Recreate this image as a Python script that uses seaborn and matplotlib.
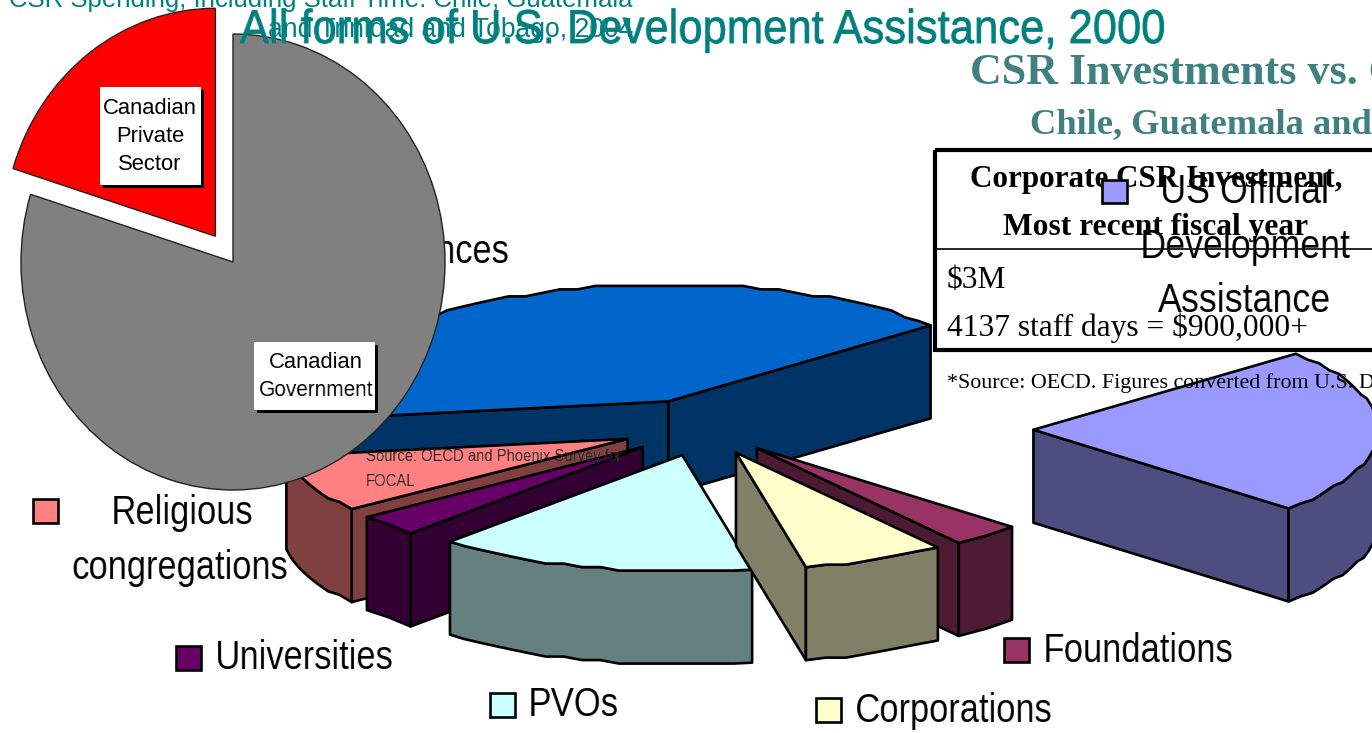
# giving_pie_slide.py
import numpy as np
import matplotlib
matplotlib.use("Agg")
import matplotlib.pyplot as plt
import matplotlib.patheffects as pe
from matplotlib.patches import Polygon, Rectangle
import seaborn as sns

# US development assistance, share of total (%)
giving_labels = ["Remittances", "Religious congregations", "Universities", "PVOs",
                 "Corporations", "Foundations", "US Official Development Assistance"]
giving_shares = [41.1, 7.9, 3.0, 15.0, 6.7, 3.3, 23.0]
giving_colors = ["#0066CC", "#FF8080", "#660066", "#CCFFFF", "#FFFFCC", "#993366", "#9999FF"]
giving_explode = [0.25, 0.24, 0.24, 0.24, 0.23, 0.23, 0.955]
draw_order = [0, 1, 2, 3, 5, 4, 6]

# Canadian split (%)
canada_labels = ["Canadian\nPrivate\nSector", "Canadian\nGovernment"]
canada_shares = [20.2, 79.8]
canada_colors = ["#FF0000", "#808080"]

table_rows = ["$3M", "4137 staff days = $900,000+"]

TEAL = "#008080"
SLATE = "#408080"
SANS = ["Liberation Sans"]
SERIF = ["Liberation Serif"]


def px(size):
    # font size given in pixels at dpi 100
    return size * 0.72


def squeeze(k, anchor=0.5):
    # the slide used a condensed face, so narrow the drawn text sideways
    def apply(img, dpi):
        w = img.shape[1]
        n = max(1, int(round(w * k)))
        cum = np.concatenate([np.zeros_like(img[:, :1]), np.cumsum(img, axis=1)], axis=1)
        pos = np.linspace(0, w, n + 1)
        i = np.minimum(pos.astype(int), w - 1)
        frac = (pos - i)[None, :, None]
        val = cum[:, i] + frac * img[:, i]
        out = (val[:, 1:] - val[:, :-1]) * n / w
        return np.clip(out, 0, 1), int(round((w - n) * anchor)), 0
    return apply


sns.set_theme(style="white")
fig = plt.figure(figsize=(13.72, 7.33), dpi=100, facecolor="white")

W, H = 1372, 733


def pixel_axes(zorder):
    ax = fig.add_axes([0, 0, 1, 1], zorder=zorder)
    ax.set_xlim(0, W)
    ax.set_ylim(H, 0)
    ax.axis("off")
    return ax


ax = pixel_axes(1)

# 3D pie, built from the shares
cx, cy, a, b, depth = 704, 428, 345, 117, 93
start = 40.5
edges = start + np.concatenate([[0], np.cumsum(giving_shares)]) / sum(giving_shares) * 360


def rim(t):
    t = np.radians(t)
    return np.column_stack([a * np.cos(t), -b * np.sin(t)])


def rough(points):
    # the source chart had a coarse, slightly stepped outline
    points = points.copy()
    points[1:-1, 1] = np.round(points[1:-1, 1] / 3.5) * 3.5
    return points


for i in draw_order:
    t0, t1 = edges[i], edges[i + 1]
    mid = (t0 + t1) / 2
    apex = np.array([cx, cy]) + giving_explode[i] * rim(mid)[0]
    top = giving_colors[i]
    side = tuple(c * 0.5 for c in matplotlib.colors.to_rgb(top))
    style = dict(edgecolor="black", linewidth=1.9, joinstyle="round", zorder=2)
    drop = np.array([0, depth])

    # radial faces the viewer can see
    for t, visible in ((t0, np.cos(np.radians(t0)) > 0), (t1, np.cos(np.radians(t1)) < 0)):
        if visible:
            p = apex + rim(t)[0]
            ax.add_patch(Polygon([apex, p, p + drop, apex + drop], facecolor=side, **style))

    outline = rough(rim(np.linspace(t0, t1, max(3, int((t1 - t0) / 3)))))
    ts = np.linspace(t0, t1, len(outline))

    # outer wall, front part only
    front = np.sin(np.radians(ts)) < 0
    if front.sum() > 1:
        arc = apex + outline[front]
        ax.add_patch(Polygon(np.vstack([arc, (arc + drop)[::-1]]), facecolor=side, **style))

    ax.add_patch(Polygon(np.vstack([apex, apex + outline]), facecolor=top, **style))

for y, line in zip((456, 481), ("Source: OECD and Phoenix Survey for", "FOCAL")):
    ax.text(366, y, line, fontsize=px(17), family=SANS, color="#222222", va="center", zorder=3,
            agg_filter=squeeze(0.87, 0))

# legend entries
swatches = [(33, 499, 1), (176, 646, 2), (490, 693, 3), (816, 698, 4), (1004, 638, 5)]
for x, y, i in swatches:
    ax.add_patch(Rectangle((x, y), 25, 24, facecolor=giving_colors[i], edgecolor="black",
                           linewidth=1.9, zorder=4))

legend_size = px(41)
legend_text = [(510, 252, "Remittances", "right", 1), (182, 513, "Religious", "center", 0.5),
               (180, 568, "congregations", "center", 0.5), (215, 658, "Universities", "left", 0),
               (528, 705, "PVOs", "left", 0), (855, 711, "Corporations", "left", 0),
               (1043, 651, "Foundations", "left", 0)]
for x, y, line, align, anchor in legend_text:
    ax.text(x, y, line, family=SANS, fontsize=legend_size, ha=align, va="center", color="black",
            zorder=5, agg_filter=squeeze(0.84, anchor))

# table
ax.add_patch(Rectangle((935, 150), 500, 200, facecolor="none", edgecolor="black", linewidth=3, zorder=3))
ax.plot([935, W], [249, 249], color="black", linewidth=1.2, zorder=3)
ax.text(1156, 179, "Corporate CSR Investment,", family=SERIF, weight="bold", fontsize=px(31.2),
        ha="center", va="center", color="black", zorder=6)
ax.text(1156, 227, "Most recent fiscal year", family=SERIF, weight="bold", fontsize=px(31.5),
        ha="center", va="center", color="black", zorder=6)
ax.text(947, 280, table_rows[0], family=SERIF, fontsize=px(31.5), va="center", color="black", zorder=6)
ax.text(947, 328, table_rows[1], family=SERIF, fontsize=px(31.5), va="center", color="black", zorder=6)
ax.text(947, 383, "*Source: OECD. Figures converted from U.S. Dollars", family=SERIF, fontsize=px(22),
        va="center", color="black", zorder=6, clip_on=True)

# US ODA legend sits over the table
ax.add_patch(Rectangle((1102, 180), 25, 23, facecolor=giving_colors[6], edgecolor="black",
                       linewidth=1.9, zorder=7))
for y, line in zip((192, 247, 301), ("US Official", "Development", "Assistance")):
    ax.text(1245, y, line, family=SANS, fontsize=legend_size, ha="center", va="center",
            color="black", zorder=7, agg_filter=squeeze(0.87))

# flat pie on top of everything below
pie_ax = fig.add_axes([21 / W, 1 - 490 / H, 424 / W, 456 / H], zorder=2)
pie_ax.pie(canada_shares, colors=canada_colors, startangle=90, explode=[0.14, 0],
           wedgeprops=dict(edgecolor="#222222", linewidth=1, clip_on=False))
pie_ax.set_aspect("auto")
pie_ax.set_xlim(-1, 1)
pie_ax.set_ylim(-1, 1)
pie_ax.axis("off")

over = pixel_axes(3)
boxes = [(100, 87, 101, 98, 150, (108, 137, 165), canada_labels[0]),
         (254, 342, 121, 68, 316, (362, 391), canada_labels[1])]
for x, y, w, h, mid_x, line_y, label in boxes:
    over.add_patch(Rectangle((x + 3, y + 3), w, h, facecolor="black", edgecolor="none"))
    over.add_patch(Rectangle((x, y), w, h, facecolor="white", edgecolor="none"))
    for yy, line in zip(line_y, label.split("\n")):
        over.text(mid_x, yy, line, family=SANS, fontsize=px(22), ha="center", va="center",
                  color="black", agg_filter=squeeze(0.95) if line == "Government" else None)

# titles from the stacked slides
over.text(321, 0, "CSR Spending, Including Staff Time: Chile, Guatemala", family=SANS,
          fontsize=px(25.7), ha="center", va="center", color=TEAL)
over.text(451, 30, "and Trinidad and Tobago, 2004", family=SANS, fontsize=px(26.5),
          ha="center", va="center", color=TEAL)
over.text(240, 31, "All forms of U.S. Development Assistance, 2000", family=SANS,
          fontsize=px(47.5), va="center", color=TEAL, agg_filter=squeeze(0.918, 0),
          path_effects=[pe.withStroke(linewidth=0.6, foreground=TEAL)])
over.text(970, 73, "CSR Investments vs. Canadian", family=SERIF, weight="bold", fontsize=px(44),
          va="center", color=SLATE, clip_on=True)
over.text(1030, 125, "Chile, Guatemala and Trinidad", family=SERIF, weight="bold", fontsize=px(36.5),
          va="center", color=SLATE, clip_on=True)

fig.savefig("out.png", dpi=100, facecolor="white")
